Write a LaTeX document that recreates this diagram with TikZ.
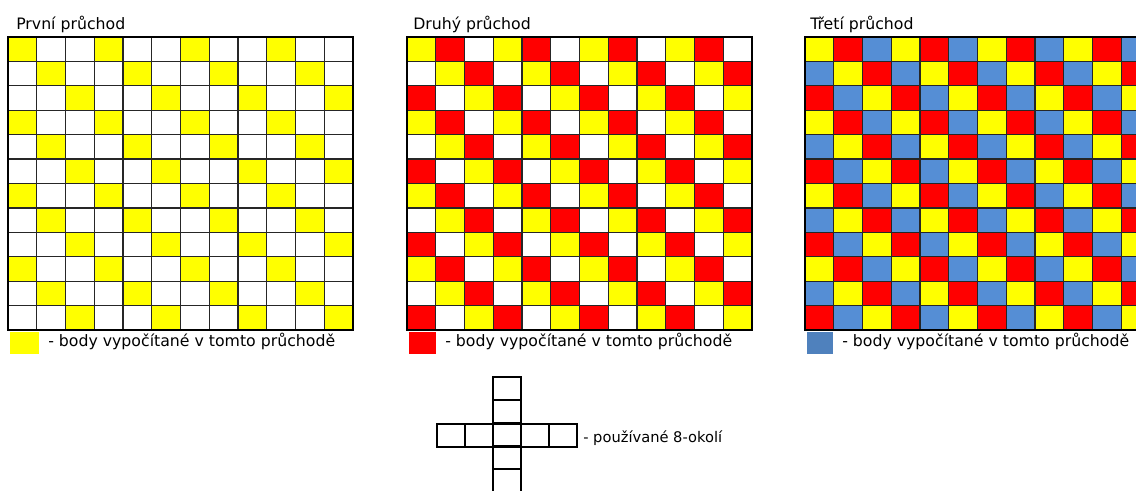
\documentclass[tikz,border=0pt]{standalone}
\usepackage{fontspec}
\setmainfont{DejaVu Sans}

\definecolor{passA}{RGB}{255,255,0}
\definecolor{passB}{RGB}{255,0,0}
\definecolor{passC}{RGB}{85,142,213}
\definecolor{passCkey}{RGB}{79,129,189}

\tikzset{
    pass text/.style={font=\fontsize{11.8}{14}\selectfont, inner sep=0pt, anchor=base west},
    key box/.style={anchor=north west, inner sep=0pt, outer sep=0pt, minimum height=16.5pt},
    gridline/.style={draw=black!85, line width=0.9pt},
    frame/.style={draw=black, line width=1.5pt},
    crossline/.style={draw=black, line width=1.4pt}
}

\begin{document}
\begin{tikzpicture}[x=0.75pt, y=-0.75pt]
    \useasboundingbox (0,0) rectangle (1136,491);

    \foreach \gx/\ca/\cb/\cc in {8/passA/white/white, 407/passA/passB/white, 805/passA/passB/passC}{
        \foreach \r in {0,...,11}{
            \foreach \c in {0,...,11}{
                \pgfmathtruncatemacro\k{mod(\c-\r+12,3)}
                \ifcase\k \def\cellcol{\ca}\or \def\cellcol{\cb}\or \def\cellcol{\cc}\fi
                \fill[fill=\cellcol] ({\gx+\c*28.75},{37+\r*24.42}) rectangle ++(28.75,24.42);
            }
        }
        \foreach \i in {1,...,11}{
            \draw[gridline] ({\gx+\i*28.75},37) -- ({\gx+\i*28.75},330);
            \draw[gridline] (\gx,{37+\i*24.42}) -- ({\gx+345},{37+\i*24.42});
        }
        \draw[frame] (\gx,37) rectangle ({\gx+345},330);
    }

    \node[pass text] (title1) at (16,30) {První průchod};
    \node[pass text] (title2) at (413,30) {Druhý průchod};
    \node[pass text] (title3) at (810,30) {Třetí průchod};

    \node[key box, fill=passA, minimum width=21.75pt] (key1) at (10,332) {};
    \node[key box, fill=passB, minimum width=20.25pt] (key2) at (409,332) {};
    \node[key box, fill=passCkey, minimum width=19.5pt] (key3) at (807,332) {};
    \node[pass text] (keytext1) at (48,347) {- body vypočítané v tomto průchodě};
    \node[pass text] (keytext2) at (445,347) {- body vypočítané v tomto průchodě};
    \node[pass text] (keytext3) at (842,347) {- body vypočítané v tomto průchodě};

    \foreach \i in {0,...,4}{
        \draw[crossline] ({437+\i*28},424) rectangle ++(28,23);
        \draw[crossline] (493,{377+\i*23}) rectangle ++(28,23);
    }
    \node[pass text, font=\fontsize{11}{13}\selectfont] (crosstext) at (583,443) {- používané 8-okolí};
\end{tikzpicture}
\end{document}
